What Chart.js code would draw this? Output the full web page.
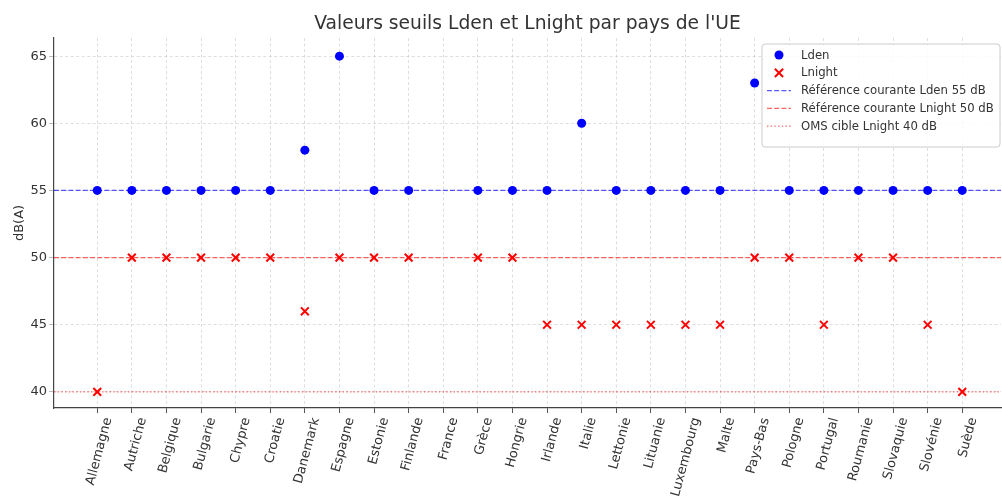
<!DOCTYPE html>
<html lang="fr">
<head>
<meta charset="utf-8">
<title>Valeurs seuils Lden et Lnight</title>
<script src="https://cdn.jsdelivr.net/npm/chart.js@4.4.1/dist/chart.umd.min.js"></script>
<style>
  html, body { margin: 0; padding: 0; background: #fff; }
  #wrap { width: 1002px; height: 500px; position: relative; }
</style>
</head>
<body>
<div id="wrap"><canvas id="chart"></canvas></div>
<script>
// Data (France has no values)
const countries = ['Allemagne', 'Autriche', 'Belgique', 'Bulgarie', 'Chypre', 'Croatie', 'Danemark',
  'Espagne', 'Estonie', 'Finlande', 'France', 'Grèce', 'Hongrie', 'Irlande', 'Italie', 'Lettonie',
  'Lituanie', 'Luxembourg', 'Malte', 'Pays-Bas', 'Pologne', 'Portugal', 'Roumanie', 'Slovaquie',
  'Slovénie', 'Suède'];
const lden = [55, 55, 55, 55, 55, 55, 58, 65, 55, 55, null, 55, 55, 55, 60, 55, 55, 55, 55, 63, 55, 55, 55, 55, 55, 55];
const lnight = [40, 50, 50, 50, 50, 50, 46, 50, 50, 50, null, 50, 50, 45, 45, 45, 45, 45, 45, 50, 50, 45, 50, 50, 45, 40];
const yTicks = [40, 45, 50, 55, 60, 65];
const refLden = 55;
const refLnight = 50;
const omsLnight = 40;

// axis bounds (the right side of the reference is slightly cropped)
const xMin = -1.25, xMax = 26.12;
const yMin = 38.8, yMax = 66.35;

const FONT = "'DejaVu Sans', sans-serif";
const TEXT = '#333333';

function toPoints(values) {
  return values.map((v, i) => ({ x: i, y: v })).filter(p => p.y !== null);
}
function hline(y) {
  return [{ x: xMin, y: y }, { x: xMax, y: y }];
}

// Title centred over the plot area, like matplotlib
const titlePlugin = {
  id: 'axTitle',
  afterDraw(chart) {
    const { ctx, chartArea } = chart;
    ctx.save();
    ctx.font = '18.7px ' + FONT;
    ctx.fillStyle = TEXT;
    ctx.textAlign = 'center';
    ctx.textBaseline = 'middle';
    ctx.fillText("Valeurs seuils Lden et Lnight par pays de l'UE", (chartArea.left + chartArea.right) / 2, 24);
    ctx.restore();
  }
};

// Legend box in the upper-right corner of the axes
const legendPlugin = {
  id: 'boxLegend',
  afterDraw(chart) {
    const { ctx, chartArea } = chart;
    const w = 238, h = 103;
    const x0 = chartArea.right - w - 1, y0 = chartArea.top + 6;
    ctx.save();
    ctx.beginPath();
    ctx.roundRect(x0, y0, w, h, 3);
    ctx.fillStyle = 'rgba(255,255,255,0.85)';
    ctx.fill();
    ctx.strokeStyle = '#cccccc';
    ctx.lineWidth = 1;
    ctx.stroke();

    ctx.font = '11.7px ' + FONT;
    ctx.textBaseline = 'middle';
    ctx.textAlign = 'left';
    const mx = x0 + 17, tx = x0 + 39;
    chart.data.datasets.forEach((ds, i) => {
      const y = y0 + 11 + i * 17.8;
      if (ds.showLine) {
        ctx.beginPath();
        ctx.setLineDash(ds.borderDash);
        ctx.strokeStyle = ds.borderColor;
        ctx.lineWidth = ds.borderWidth;
        ctx.moveTo(mx - 12, y);
        ctx.lineTo(mx + 12, y);
        ctx.stroke();
        ctx.setLineDash([]);
      } else if (ds.pointStyle === 'circle') {
        ctx.beginPath();
        ctx.arc(mx, y, ds.pointRadius, 0, Math.PI * 2);
        ctx.fillStyle = ds.backgroundColor;
        ctx.fill();
      } else {
        const r = ds.pointRadius * 0.75;
        ctx.beginPath();
        ctx.strokeStyle = ds.borderColor;
        ctx.lineWidth = ds.borderWidth;
        ctx.moveTo(mx - r, y - r); ctx.lineTo(mx + r, y + r);
        ctx.moveTo(mx + r, y - r); ctx.lineTo(mx - r, y + r);
        ctx.stroke();
      }
      ctx.fillStyle = TEXT;
      ctx.fillText(ds.label, tx, y + 0.5);
    });
    ctx.restore();
  }
};

new Chart(document.getElementById('chart'), {
  type: 'scatter',
  data: {
    datasets: [
      {
        label: 'Lden',
        data: toPoints(lden),
        pointStyle: 'circle',
        pointRadius: 4.5,
        backgroundColor: '#0000ff',
        borderColor: '#0000ff',
        borderWidth: 0
      },
      {
        label: 'Lnight',
        data: toPoints(lnight),
        pointStyle: 'crossRot',
        pointRadius: 5.5,
        borderColor: '#ff0000',
        backgroundColor: '#ff0000',
        borderWidth: 2
      },
      {
        label: 'Référence courante Lden 55 dB',
        data: hline(refLden),
        showLine: true,
        pointRadius: 0,
        borderColor: 'rgba(0,0,255,0.65)',
        borderWidth: 1.3,
        borderDash: [5, 2.2]
      },
      {
        label: 'Référence courante Lnight 50 dB',
        data: hline(refLnight),
        showLine: true,
        pointRadius: 0,
        borderColor: 'rgba(255,0,0,0.6)',
        borderWidth: 1.3,
        borderDash: [5, 2.2]
      },
      {
        label: 'OMS cible Lnight 40 dB',
        data: hline(omsLnight),
        showLine: true,
        pointRadius: 0,
        borderColor: 'rgba(255,0,0,0.6)',
        borderWidth: 1.3,
        borderDash: [1.4, 2.3]
      }
    ]
  },
  options: {
    responsive: true,
    maintainAspectRatio: false,
    animation: false,
    layout: { autoPadding: false, padding: { top: 38, right: 1, left: 0, bottom: 0 } },
    plugins: {
      legend: { display: false },
      title: { display: false },
      tooltip: { enabled: false }
    },
    scales: {
      x: {
        type: 'linear',
        min: xMin,
        max: xMax,
        afterBuildTicks: axis => { axis.ticks = countries.map((_, i) => ({ value: i })); },
        afterFit: axis => {
          axis.height = 92;
          axis.paddingLeft = 0;
          axis.paddingRight = 0;
        },
        grid: {
          color: 'rgba(190,190,190,0.5)',
          tickColor: '#555',
          tickBorderDash: [],
          tickLength: 5,
          lineWidth: 1
        },
        border: { display: true, color: '#444', width: 1.2, dash: [3, 2.5] },
        ticks: {
          color: TEXT,
          font: { family: FONT, size: 13 },
          minRotation: 75,
          maxRotation: 75,
          autoSkip: false,
          padding: 3,
          labelOffset: 11,
          callback: value => countries[value]
        }
      },
      y: {
        min: yMin,
        max: yMax,
        afterBuildTicks: axis => { axis.ticks = yTicks.map(v => ({ value: v })); },
        afterFit: axis => { axis.width = 54; },
        grid: {
          color: 'rgba(190,190,190,0.5)',
          tickColor: '#bbb',
          tickBorderDash: [],
          tickLength: 5,
          lineWidth: 1
        },
        border: { display: true, color: '#444', width: 1.2, dash: [3, 2.5] },
        ticks: {
          color: TEXT,
          font: { family: FONT, size: 13 },
          padding: 2
        },
        title: {
          display: true,
          text: 'dB(A)',
          color: TEXT,
          font: { family: FONT, size: 13 },
          padding: { top: 12, bottom: 0 }
        }
      }
    }
  },
  plugins: [titlePlugin, legendPlugin]
});
</script>
</body>
</html>
